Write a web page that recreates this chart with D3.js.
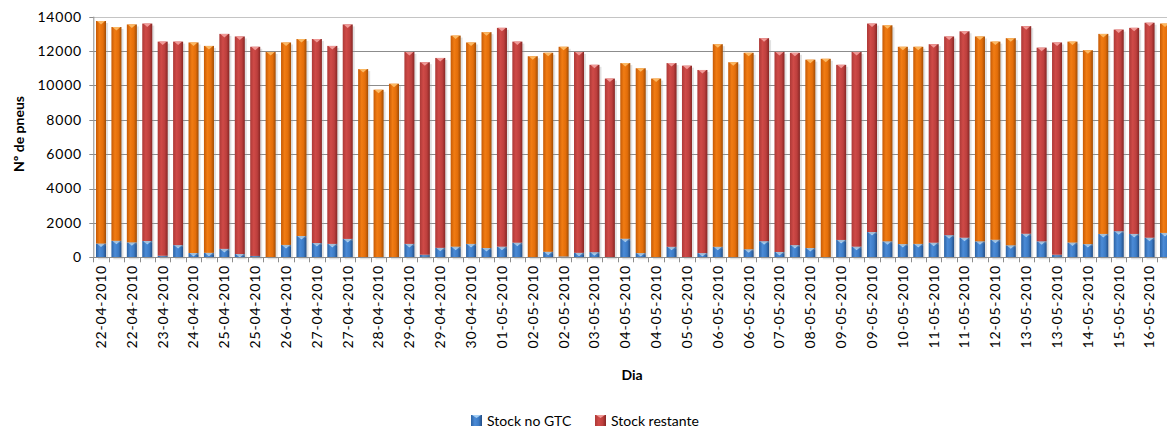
<!DOCTYPE html>
<html>
<head>
<meta charset="utf-8">
<script src="https://cdn.jsdelivr.net/npm/d3@7"></script>
<style>
  body { margin: 0; background: #fff; }
  text { font-family: Lato, "Open Sans", sans-serif; fill: #000; }
</style>
</head>
<body>
<svg id="chart" width="1167" height="428"></svg>
<script>
// Stock de pneus por registo (vários registos por dia)
const dias = [
  "22-04-2010","22-04-2010","22-04-2010","23-04-2010","23-04-2010","23-04-2010",
  "24-04-2010","24-04-2010","25-04-2010","25-04-2010","25-04-2010","26-04-2010",
  "26-04-2010","26-04-2010","27-04-2010","27-04-2010","27-04-2010","28-04-2010",
  "28-04-2010","28-04-2010","29-04-2010","29-04-2010","29-04-2010","30-04-2010",
  "30-04-2010","30-04-2010","01-05-2010","01-05-2010","02-05-2010","02-05-2010",
  "02-05-2010","03-05-2010","03-05-2010","03-05-2010","04-05-2010","04-05-2010",
  "04-05-2010","05-05-2010","05-05-2010","05-05-2010","06-05-2010","06-05-2010",
  "06-05-2010","07-05-2010","07-05-2010","07-05-2010","08-05-2010","08-05-2010",
  "09-05-2010","09-05-2010","09-05-2010","10-05-2010","10-05-2010","10-05-2010",
  "11-05-2010","11-05-2010","11-05-2010","12-05-2010","12-05-2010","12-05-2010",
  "13-05-2010","13-05-2010","13-05-2010","14-05-2010","14-05-2010","14-05-2010",
  "15-05-2010","15-05-2010","16-05-2010","16-05-2010"
];

// Grupo de registos (alterna entre blocos de dias)
const grupo = [
  0,0,0, 1,1,1, 0,0, 1,1,1, 0,0,0, 1,1,1, 0,0,0, 1,1,1, 0,0,0, 1,1, 0,0,0,
  1,1,1, 0,0,0, 1,1,1, 0,0,0, 1,1,1, 0,0, 1,1,1, 0,0,0, 1,1,1, 0,0,0, 1,1,1,
  0,0,0, 1,1,1, 0
];

// Total de pneus em stock
const stockTotal = [
  13750,13400,13550,13600,12550,12550,12500,12300,13000,12850,
  12250,11950,12500,12700,12700,12300,13550,10950, 9750,10100,
  11950,11350,11600,12900,12500,13100,13350,12550,11700,11900,
  12250,11950,11200,10400,11300,11000,10400,11300,11150,10900,
  12400,11350,11900,12750,11950,11900,11500,11550,11200,11950,
  13600,13500,12250,12250,12400,12850,13150,12850,12550,12750,
  13450,12200,12500,12550,12050,13000,13250,13350,13650,13600
];

// Pneus em stock no GTC
const stockGTC = [
   800, 960, 870, 950,  90, 710, 250, 260, 490, 190,
    80,   0, 720,1240, 830, 780,1070,   0,   0,   0,
   780, 150, 550, 620, 780, 540, 620, 850,   0, 320,
    50, 260, 300,   0,1080, 245,   0, 610,   0, 245,
   610,   0, 470, 940, 310, 710, 540,   0,1010, 620,
  1470, 930, 770, 780, 850,1290,1140, 930,1020, 700,
  1370, 930, 150, 860, 770,1360,1520,1360,1140,1420
];

const yTicks = [0, 2000, 4000, 6000, 8000, 10000, 12000, 14000];
const seriesNames = ["Stock no GTC", "Stock restante"];

const rows = dias.map((d, i) => ({
  i, dia: d, grupo: grupo[i],
  gtc: stockGTC[i],
  restante: stockTotal[i] - stockGTC[i]
}));

const svg = d3.select("#chart");
const step = 15.42;
const x0 = 93.3;
const x = d3.scaleBand()
  .domain(rows.map(r => r.i))
  .range([x0, x0 + step * rows.length])
  .paddingInner(0.35)
  .paddingOuter(0.175);
const y = d3.scaleLinear().domain([0, 14000]).range([257.3, 16.7]);

// gradients for the cylinder-like bars
const defs = svg.append("defs");
const fills = {
  blue:   { stops: ["#2c62a3", "#4b8bd7", "#3c7bc5", "#234d84"], cap: "#a5cff5" },
  orange: { stops: ["#c65a05", "#f17c13", "#e36e0a", "#a04c05"], cap: "#fbb863" },
  red:    { stops: ["#ad3937", "#cf4a47", "#bd3f3d", "#862624"], cap: "#f09a97" }
};
Object.entries(fills).forEach(([k, f]) => {
  const g = defs.append("linearGradient").attr("id", "g-" + k)
    .attr("x1", 0).attr("x2", 1).attr("y1", 0).attr("y2", 0);
  [0, 0.35, 0.7, 1].forEach((o, j) =>
    g.append("stop").attr("offset", o).attr("stop-color", f.stops[j]));
});

// gridlines
svg.append("g").selectAll("line").data(yTicks).join("line")
  .attr("x1", x0).attr("x2", 1180)
  .attr("y1", d => Math.round(y(d)) + 0.5).attr("y2", d => Math.round(y(d)) + 0.5)
  .attr("stroke", d => d === 14000 ? "#c4c4c4" : "#8c8c8c")
  .attr("stroke-width", 1);

// y axis labels
svg.append("g").selectAll("text").data(yTicks).join("text")
  .attr("x", 82).attr("y", d => y(d))
  .attr("dy", "0.35em")
  .attr("text-anchor", "end")
  .style("font-size", "14px")
  .style("letter-spacing", "0.8px")
  .text(d => d);

// y axis line + ticks
svg.append("line").attr("x1", x0 + 0.5).attr("x2", x0 + 0.5)
  .attr("y1", y(14000)).attr("y2", y(0)).attr("stroke", "#8c8c8c");
svg.append("g").selectAll("line").data(yTicks).join("line")
  .attr("x1", x0 - 4).attr("x2", x0)
  .attr("y1", d => Math.round(y(d)) + 0.5).attr("y2", d => Math.round(y(d)) + 0.5)
  .attr("stroke", "#8c8c8c");

// stacked bars
const stack = d3.stack().keys(["gtc", "restante"]);
const layers = stack(rows);
const colorOf = (key, d) => key === "gtc" ? "blue" : (d.data.grupo === 0 ? "orange" : "red");

const barsG = svg.append("g");
layers.forEach(layer => {
  const segs = layer.filter(d => d[1] - d[0] > 0);
  const g = barsG.append("g");
  // soft shadow
  g.selectAll("rect.sh").data(segs).join("rect").attr("class", "sh")
    .attr("x", d => x(d.data.i) + 2)
    .attr("y", d => y(d[1]) + 2)
    .attr("width", x.bandwidth())
    .attr("height", d => y(d[0]) - y(d[1]))
    .attr("fill", "#9a9a9a").attr("opacity", 0.3);
  g.selectAll("rect.b").data(segs).join("rect").attr("class", "b")
    .attr("x", d => x(d.data.i))
    .attr("y", d => y(d[1]))
    .attr("width", x.bandwidth())
    .attr("height", d => y(d[0]) - y(d[1]))
    .attr("fill", d => `url(#g-${colorOf(layer.key, d)})`);
  g.selectAll("path.cap").data(segs.filter(d => y(d[0]) - y(d[1]) > 3)).join("path").attr("class", "cap")
    .attr("d", d => {
      const bx = x(d.data.i), by = y(d[1]), w = x.bandwidth();
      return `M${bx + 1},${by}L${bx + w - 1},${by}L${bx + w / 2},${by + 3.5}Z`;
    })
    .attr("fill", d => fills[colorOf(layer.key, d)].cap);
});

// x axis line + ticks
svg.append("line").attr("x1", x0).attr("x2", 1180)
  .attr("y1", Math.round(y(0)) + 0.5).attr("y2", Math.round(y(0)) + 0.5)
  .attr("stroke", "#8c8c8c");
svg.append("g").selectAll("line").data(d3.range(rows.length + 1)).join("line")
  .attr("x1", i => Math.round(x0 + i * step) + 0.5)
  .attr("x2", i => Math.round(x0 + i * step) + 0.5)
  .attr("y1", y(0)).attr("y2", y(0) + 5)
  .attr("stroke", "#8c8c8c");

// x labels (every other record)
svg.append("g").selectAll("text").data(rows.filter(r => r.i % 2 === 0)).join("text")
  .attr("transform", r => `translate(${x(r.i) + x.bandwidth() / 2},265) rotate(-90)`)
  .attr("text-anchor", "end")
  .attr("dy", "0.35em")
  .style("font-size", "14px")
  .style("letter-spacing", "0.8px")
  .text(r => r.dia);

// axis titles
svg.append("text")
  .attr("transform", "translate(19,134) rotate(-90)")
  .attr("text-anchor", "middle").attr("dy", "0.35em")
  .style("font-size", "14px").style("font-weight", "bold")
  .text("Nº de pneus");
svg.append("text")
  .attr("x", 632).attr("y", 380)
  .attr("text-anchor", "middle")
  .style("font-size", "14px").style("font-weight", "bold")
  .text("Dia");

// legend
const legend = [
  { name: seriesNames[0], fill: "blue", x: 471 },
  { name: seriesNames[1], fill: "red", x: 595 }
];
const lg = svg.append("g").selectAll("g").data(legend).join("g")
  .attr("transform", d => `translate(${d.x},415)`);
lg.append("rect").attr("width", 11).attr("height", 11)
  .attr("fill", d => `url(#g-${d.fill})`);
lg.append("path").attr("d", "M1,0L10,0L5.5,3Z").attr("fill", d => fills[d.fill].cap);
lg.append("text").attr("x", 16).attr("y", 10.5)
  .style("font-size", "14px")
  .text(d => d.name);
</script>
</body>
</html>
